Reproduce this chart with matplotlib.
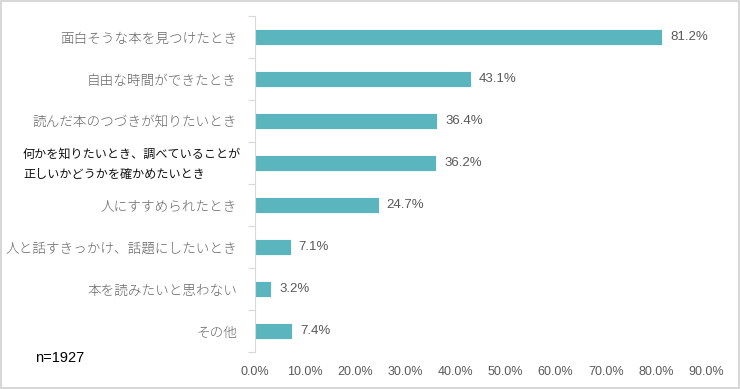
import matplotlib
matplotlib.use("Agg")
import matplotlib.pyplot as plt
from matplotlib.patches import Rectangle
from matplotlib.ticker import FixedLocator, NullFormatter
import matplotlib.transforms as mtransforms

plt.rcParams["font.family"] = ["Liberation Sans", "Noto Sans CJK JP", "DejaVu Sans"]

categories = [
    "面白そうな本を見つけたとき",
    "自由な時間ができたとき",
    "読んだ本のつづきが知りたいとき",
    "何かを知りたいとき、調べていることが\n正しいかどうかを確かめたいとき",
    "人にすすめられたとき",
    "人と話すきっかけ、話題にしたいとき",
    "本を読みたいと思わない",
    "その他",
]
values = [81.2, 43.1, 36.4, 36.2, 24.7, 7.1, 3.2, 7.4]
xticks = [0, 10, 20, 30, 40, 50, 60, 70, 80, 90]
sample_note = "n=1927"

bar_color = "#5BB5BF"
label_gray = "#595959"
line_gray = "#D9D9D9"
jp_fam = ["Noto Sans CJK JP", "DejaVu Sans"]

fig = plt.figure(figsize=(7.4, 3.89), dpi=100)
ax = fig.add_axes([255 / 740, 1 - 352 / 389, (706 - 255) / 740, (352 - 16) / 389])

ypos = list(range(len(categories)))
ax.barh(ypos, values, height=0.4, color=bar_color, edgecolor="white", linewidth=0.6, zorder=2)

ax.set_xlim(0, 90)
ax.set_ylim(len(categories) - 0.5, -0.5)

for y, v in zip(ypos, values):
    ax.text(v + 1.6, y, f"{v:.1f}%", ha="left", va="center", fontsize=9.5, color=label_gray)

ax.set_xticks(xticks)
ax.set_xticklabels([f"{t:.1f}%" for t in xticks], fontsize=9, color=label_gray)
ax.tick_params(axis="x", length=0, pad=10)

# category labels
ax.set_yticks(ypos)
ax.set_yticklabels(["" if "\n" in c else c for c in categories], fontsize=9.8,
                   color="#666666", family=jp_fam, fontweight="light")
ax.tick_params(axis="y", which="major", length=0, pad=13)
ax.yaxis.set_minor_locator(FixedLocator([i - 0.5 for i in range(len(categories) + 1)]))
ax.yaxis.set_minor_formatter(NullFormatter())
ax.tick_params(axis="y", which="minor", length=5, color=line_gray, width=0.8)

# two-line label, left aligned, in black
trans = mtransforms.blended_transform_factory(fig.transFigure, ax.transData)
for i, c in enumerate(categories):
    if "\n" in c:
        ax.text(23 / 740, i + 0.03, c, transform=trans, ha="left", va="center", fontsize=8.7,
                color="#111111", linespacing=1.75, family=jp_fam)

for side in ["top", "right", "bottom"]:
    ax.spines[side].set_visible(False)
ax.spines["left"].set_color(line_gray)
ax.spines["left"].set_linewidth(0.8)

fig.text(35 / 740, 1 - 358 / 389, sample_note, ha="left", va="center", fontsize=10.5, color="#000000")

fig.patches.append(Rectangle((0.001, 0.002), 0.997, 0.995, transform=fig.transFigure,
                             fill=False, edgecolor="#D0D0D0", linewidth=1.2))

fig.savefig("out.png", dpi=100)
